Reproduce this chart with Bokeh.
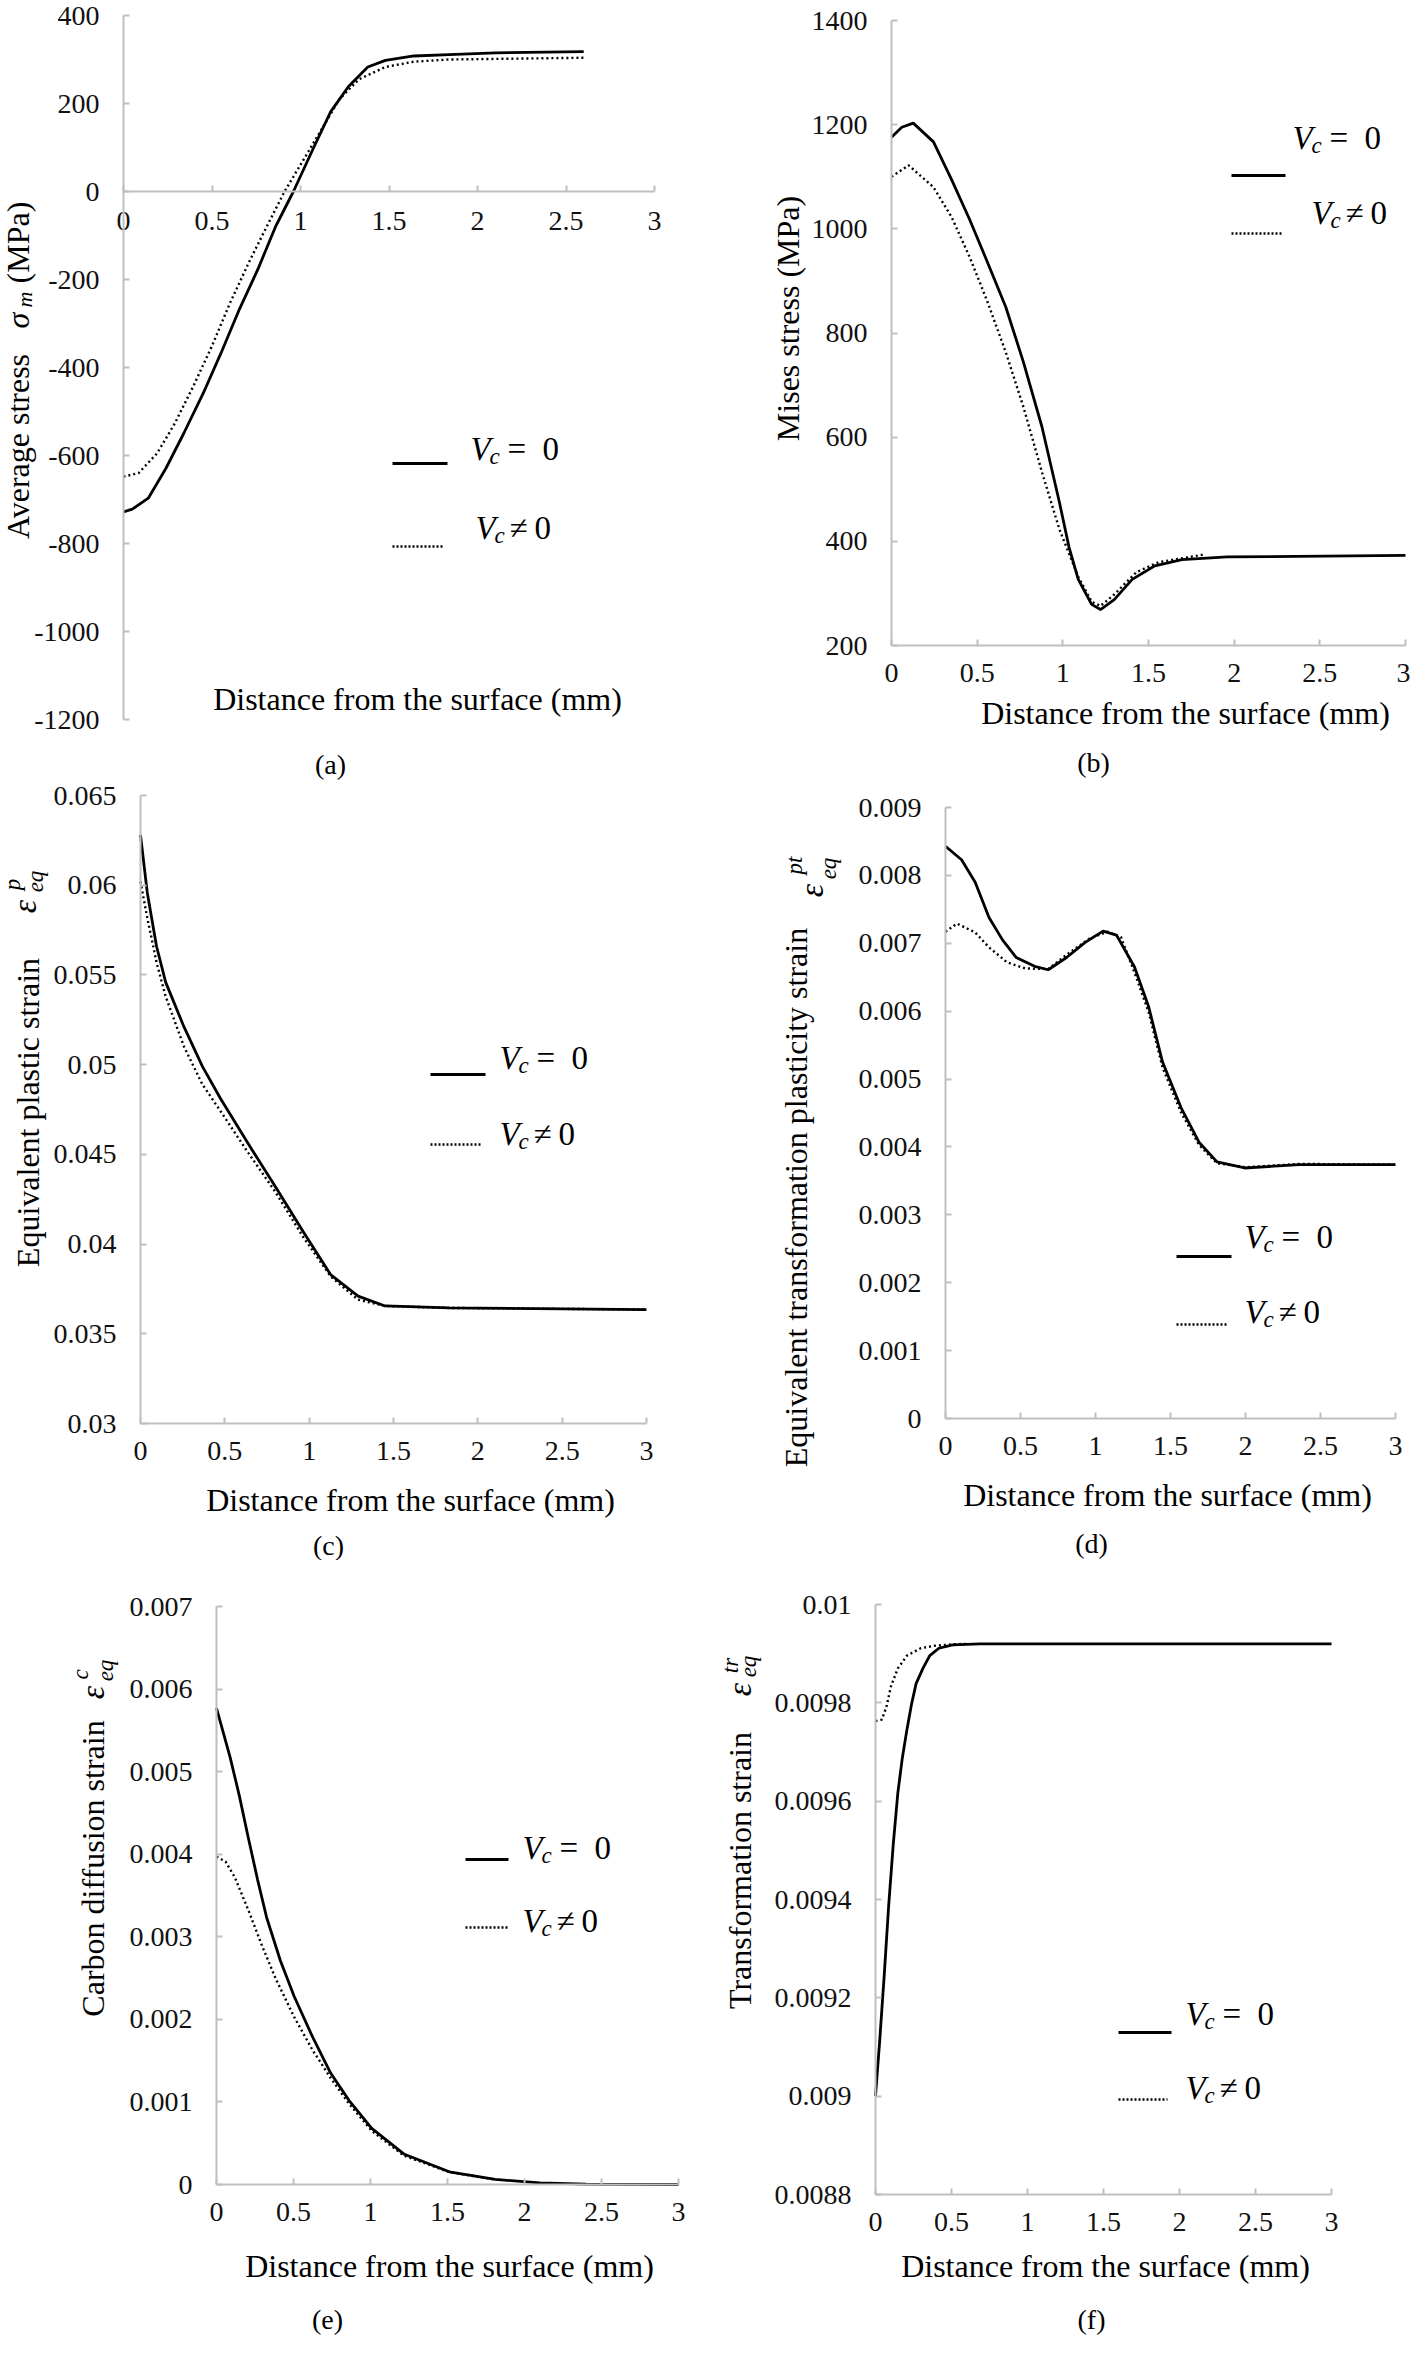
from bokeh.plotting import figure
from bokeh.layouts import column, row
from bokeh.models import Label, Arrow, FixedTicker, PrintfTickFormatter
from bokeh.embed import file_html
from bokeh.resources import INLINE

FONT = "Liberation Serif"
AXIS_GREY = "#bfbfbf"

# ---------------- data ----------------
x_ticks = [0, 0.5, 1, 1.5, 2, 2.5, 3]

# (a) average stress (MPa)
a_x_solid = [0, 0.05, 0.14, 0.24, 0.34, 0.45, 0.55, 0.65, 0.76, 0.86, 0.96, 1.07, 1.17, 1.27, 1.38, 1.48, 1.64, 1.84, 2.1, 2.6]
a_y_solid = [-728, -722, -697, -629, -550, -459, -368, -272, -176, -79, 0, 96, 181, 238, 283, 298, 308, 311, 315, 318]
a_x_dot = [0, 0.085, 0.19, 0.29, 0.395, 0.5, 0.6, 0.705, 0.81, 0.91, 1.07, 1.22, 1.33, 1.48, 1.64, 1.84, 2.6]
a_y_dot = [-648, -640, -595, -527, -442, -351, -255, -164, -79, 0, 108, 210, 255, 283, 295, 300, 304]
a_y_ticks = [-1200, -1000, -800, -600, -400, -200, 0, 200, 400]

# (b) Mises stress (MPa)
b_x_solid = [0, 0.06, 0.127, 0.245, 0.35, 0.456, 0.56, 0.667, 0.77, 0.878, 0.98, 1.036, 1.09, 1.168, 1.22, 1.3, 1.405, 1.537, 1.695, 1.96, 3.0]
b_y_solid = [1176, 1195, 1203, 1167, 1095, 1018, 936, 850, 744, 620, 475, 389, 327, 279, 269, 288, 327, 353, 365, 370, 373]
b_x_dot = [0, 0.1, 0.245, 0.35, 0.456, 0.56, 0.667, 0.77, 0.878, 0.98, 1.09, 1.168, 1.22, 1.3, 1.43, 1.56, 1.83]
b_y_dot = [1100, 1122, 1080, 1023, 946, 860, 763, 658, 533, 423, 332, 284, 276, 298, 341, 360, 375]
b_y_ticks = [200, 400, 600, 800, 1000, 1200, 1400]

# (c) equivalent plastic strain
c_x = [0, 0.04, 0.095, 0.149, 0.258, 0.367, 0.475, 0.638, 0.8, 0.964, 1.127, 1.29, 1.45, 1.83, 3.0]
c_y_solid = [0.0628, 0.0596, 0.0566, 0.0546, 0.0521, 0.0499, 0.0481, 0.0456, 0.0432, 0.0407, 0.0383, 0.0371, 0.03655, 0.03644, 0.03635]
c_y_dot = [0.0602, 0.0582, 0.0557, 0.0538, 0.0510, 0.0489, 0.0474, 0.0451, 0.0429, 0.0404, 0.0382, 0.0369, 0.03655, 0.03644, 0.03635]
c_y_ticks = [0.03, 0.035, 0.04, 0.045, 0.05, 0.055, 0.06, 0.065]

# (d) equivalent transformation plasticity strain
d_x_solid = [0, 0.107, 0.198, 0.29, 0.38, 0.472, 0.594, 0.685, 0.807, 0.929, 1.05, 1.14, 1.26, 1.355, 1.447, 1.57, 1.69, 1.81, 1.995, 2.36, 3.0]
d_y_solid = [0.00843, 0.00823, 0.0079, 0.00738, 0.00705, 0.00679, 0.00666, 0.00661, 0.00679, 0.00701, 0.00718, 0.00712, 0.00665, 0.00606, 0.00525, 0.00458, 0.00407, 0.00378, 0.00369, 0.00374, 0.00374]
d_x_dot = [0, 0.076, 0.198, 0.29, 0.41, 0.53, 0.685, 0.807, 0.96, 1.08, 1.17, 1.26, 1.355, 1.447, 1.57, 1.69, 1.81, 1.995, 2.36, 3.0]
d_y_dot = [0.00717, 0.00729, 0.00716, 0.00694, 0.00672, 0.00663, 0.00662, 0.00683, 0.00707, 0.00717, 0.00709, 0.00657, 0.00598, 0.00517, 0.00451, 0.00403, 0.00376, 0.0037, 0.00375, 0.00374]
d_y_ticks = [0, 0.001, 0.002, 0.003, 0.004, 0.005, 0.006, 0.007, 0.008, 0.009]

# (e) carbon diffusion strain
e_x_solid = [0, 0.089, 0.148, 0.2075, 0.267, 0.326, 0.415, 0.504, 0.623, 0.741, 0.86, 1.008, 1.216, 1.512, 1.81, 2.1, 2.4, 3.0]
e_y_solid = [0.00577, 0.00517, 0.00471, 0.00419, 0.00369, 0.00323, 0.00271, 0.00228, 0.00179, 0.00135, 0.00102, 0.00068, 0.00037, 0.000154, 0.000062, 0.000019, 0.000005, 0.0]
e_x_dot = [0, 0.059, 0.119, 0.2075, 0.296, 0.385, 0.504, 0.623, 0.741, 0.86, 1.008, 1.216, 1.512, 1.81]
e_y_dot = [0.00397, 0.00391, 0.00372, 0.00332, 0.00289, 0.00249, 0.00203, 0.00163, 0.00129, 0.00098, 0.00065, 0.00035, 0.00015, 0.00006]
e_y_ticks = [0, 0.001, 0.002, 0.003, 0.004, 0.005, 0.006, 0.007]

# (f) transformation strain
f_x_solid = [0, 0.027, 0.057, 0.087, 0.117, 0.147, 0.177, 0.207, 0.237, 0.267, 0.312, 0.357, 0.417, 0.508, 0.688, 3.0]
f_y_solid = [0.0090, 0.00911, 0.009244, 0.009389, 0.009513, 0.009617, 0.009689, 0.009746, 0.009797, 0.009839, 0.00987, 0.009896, 0.009911, 0.009918, 0.00992, 0.00992]
f_x_dot = [0, 0.042, 0.072, 0.102, 0.147, 0.207, 0.297, 0.387, 0.508, 0.6]
f_y_dot = [0.009763, 0.009766, 0.009792, 0.009834, 0.00987, 0.009896, 0.009911, 0.009916, 0.009919, 0.00992]
f_y_ticks = [0.0088, 0.009, 0.0092, 0.0094, 0.0096, 0.0098, 0.01]

XLABEL = "Distance from the surface (mm)"

# ---------------- layout helpers ----------------
CELL_W = 705
CELL_H = [780, 780, 779]


def make_panel(col, rw, area, y_rng, y_ticks, xs, ys, xd, yd, x_at=None):
    # the frame fills the whole cell; the ranges are stretched so that the
    # data area (0..3, y_rng) lands on the page box `area`
    cx = 8 + col * CELL_W
    cy = 8 + sum(CELL_H[:rw])
    cw, ch = CELL_W, CELL_H[rw]
    l, t, r, b = area
    y0, y1 = y_rng
    kx = 3 / (r - l)
    ky = (y1 - y0) / (b - t)
    xr = (-(l - cx) * kx, 3 + (cx + cw - r) * kx)
    yr = (y0 - (cy + ch - b) * ky, y1 + (t - cy) * ky)
    p = figure(width=cw, height=ch, x_range=xr, y_range=yr,
               output_backend="svg", toolbar_location=None, min_border=0)
    p.outline_line_color = None
    p.grid.visible = False
    p.xaxis.fixed_location = y0 if x_at is None else x_at
    p.xaxis.bounds = (0, 3)
    p.yaxis.fixed_location = 0
    p.yaxis.bounds = (y0, y1)
    for ax in (p.xaxis[0], p.yaxis[0]):
        ax.axis_line_color = AXIS_GREY
        ax.axis_line_width = 2
        ax.major_tick_line_color = AXIS_GREY
        ax.major_tick_line_width = 2
        ax.major_tick_in = 6
        ax.major_tick_out = 0
        ax.minor_tick_line_color = None
        ax.major_label_text_font = FONT
        ax.major_label_text_font_size = "28px"
        ax.major_label_text_color = "#111111"
        ax.formatter = PrintfTickFormatter(format="%g")
    p.xaxis.ticker = FixedTicker(ticks=x_ticks)
    p.yaxis.ticker = FixedTicker(ticks=y_ticks)
    p.xaxis.major_label_standoff = 18
    p.yaxis.major_label_standoff = 24

    p.line(xd, yd, line_color="black", line_width=2.4, line_dash="2 3")
    p.line(xs, ys, line_color="black", line_width=2.8)
    return p, (cx, cy, cx + cw, cy + ch)


def txt(p, box, x, y, text, size, style="normal", angle=0, align="center"):
    p.add_layout(Label(x=x - box[0], y=box[3] - y, x_units="screen", y_units="screen",
                       text=text, text_font=FONT, text_font_size=f"{size}px",
                       text_font_style=style, text_color="black",
                       angle=angle, angle_units="deg",
                       text_align=align, text_baseline="middle"))


def key(p, box, x0, x1, y, dash, width):
    p.add_layout(Arrow(end=None, x_start=x0 - box[0], y_start=box[3] - y,
                       x_end=x1 - box[0], y_end=box[3] - y,
                       start_units="screen", end_units="screen",
                       line_color="black", line_width=width, line_dash=dash))


def legend(p, box, solid, dotted):
    # each entry = (line_x0, line_x1, line_y, text_x, text_y) in page pixels
    key(p, box, solid[0], solid[1], solid[2], "solid", 3)
    key(p, box, dotted[0], dotted[1], dotted[2], "2 2", 2.4)
    for (lx0, lx1, ly, tx, ty), sign, d1, d2 in ((solid, "=", 37, 72), (dotted, "\u2260", 34, 59)):
        txt(p, box, tx, ty, "V", 33, "italic", align="left")
        txt(p, box, tx + 19, ty + 8, "c", 23, "italic", align="left")
        txt(p, box, tx + d1, ty, sign, 33, align="left")
        txt(p, box, tx + d2, ty, "0", 33, align="left")


def eps(p, box, e_pos, sub_pos, sup_pos, sup):
    txt(p, box, e_pos[0], e_pos[1], "\u03b5", 34, "italic", angle=90)
    txt(p, box, sub_pos[0], sub_pos[1], "eq", 23, "italic", angle=90)
    txt(p, box, sup_pos[0], sup_pos[1], sup, 23, "italic", angle=90)


# ---------------- (a) ----------------
pa, ba = make_panel(0, 0, (131, 23, 662, 727), (-1200, 400), a_y_ticks,
                    a_x_solid, a_y_solid, a_x_dot, a_y_dot, x_at=0)
pa.xaxis.major_label_standoff = 20
txt(pa, ba, 25, 454, "Average stress", 32, angle=90)
txt(pa, ba, 25, 328, "\u03c3", 32, "italic", angle=90)
txt(pa, ba, 32, 307, "m", 22, "italic", angle=90)
txt(pa, ba, 25, 250, "(MPa)", 32, angle=90)
txt(pa, ba, 425, 706, XLABEL, 32)
txt(pa, ba, 338, 772, "(a)", 28)
legend(pa, ba, (400, 455, 471, 478, 456), (400, 450, 554, 483, 535))

# ---------------- (b) ----------------
pb, bb = make_panel(1, 0, (899, 28, 1413, 653), (200, 1400), b_y_ticks,
                    b_x_solid, b_y_solid, b_x_dot, b_y_dot)
txt(pb, bb, 795, 326, "Mises stress (MPa)", 32, angle=90)
txt(pb, bb, 1193, 720, XLABEL, 32)
txt(pb, bb, 1101, 770, "(b)", 28)
legend(pb, bb, (1239, 1293, 183, 1300, 145), (1239, 1290, 241, 1319, 220))

# ---------------- (c) ----------------
pc, bc = make_panel(0, 1, (148, 803, 654, 1431), (0.03, 0.065), c_y_ticks,
                    c_x, c_y_solid, c_x, c_y_dot)
txt(pc, bc, 35, 1120, "Equivalent plastic strain", 32, angle=90)
eps(pc, bc, (32, 914), (43, 889), (20, 892), "p")
txt(pc, bc, 418, 1507, XLABEL, 32)
txt(pc, bc, 336, 1553, "(c)", 28)
legend(pc, bc, (438, 493, 1082, 507, 1065), (438, 488, 1152, 507, 1141))

# ---------------- (d) ----------------
pd_, bd = make_panel(1, 1, (953, 815, 1403, 1426), (0, 0.009), d_y_ticks,
                     d_x_solid, d_y_solid, d_x_dot, d_y_dot)
txt(pd_, bd, 803, 1205, "Equivalent transformation plasticity strain", 32, angle=90)
eps(pd_, bd, (819, 898), (836, 876), (802, 873), "pt")
txt(pd_, bd, 1175, 1502, XLABEL, 32)
txt(pd_, bd, 1099, 1551, "(d)", 28)
legend(pd_, bd, (1184, 1239, 1264, 1252, 1244), (1184, 1234, 1332, 1252, 1319))

# ---------------- (e) ----------------
pe, be = make_panel(0, 2, (224, 1614, 686, 2192), (0, 0.007), e_y_ticks,
                    e_x_solid, e_y_solid, e_x_dot, e_y_dot)
txt(pe, be, 100, 1876, "Carbon diffusion strain", 32, angle=90)
eps(pe, be, (100, 1700), (113, 1678), (88, 1682), "c")
txt(pe, be, 457, 2273, XLABEL, 32)
txt(pe, be, 335, 2327, "(e)", 28)
legend(pe, be, (473, 516, 1867, 530, 1855), (473, 515, 1935, 530, 1928))

# ---------------- (f) ----------------
pf, bf = make_panel(1, 2, (883, 1612, 1339, 2202), (0.0088, 0.01), f_y_ticks,
                    f_x_solid, f_y_solid, f_x_dot, f_y_dot)
txt(pf, bf, 747, 1878, "Transformation strain", 32, angle=90)
eps(pf, bf, (747, 1697), (756, 1674), (738, 1673), "tr")
txt(pf, bf, 1113, 2273, XLABEL, 32)
txt(pf, bf, 1099, 2327, "(f)", 28)
legend(pf, bf, (1126, 1179, 2040, 1193, 2021), (1126, 1175, 2107, 1193, 2095))

p = column(row(pa, pb), row(pc, pd_), row(pe, pf))

open("out.html", "w").write(file_html(p, INLINE))
